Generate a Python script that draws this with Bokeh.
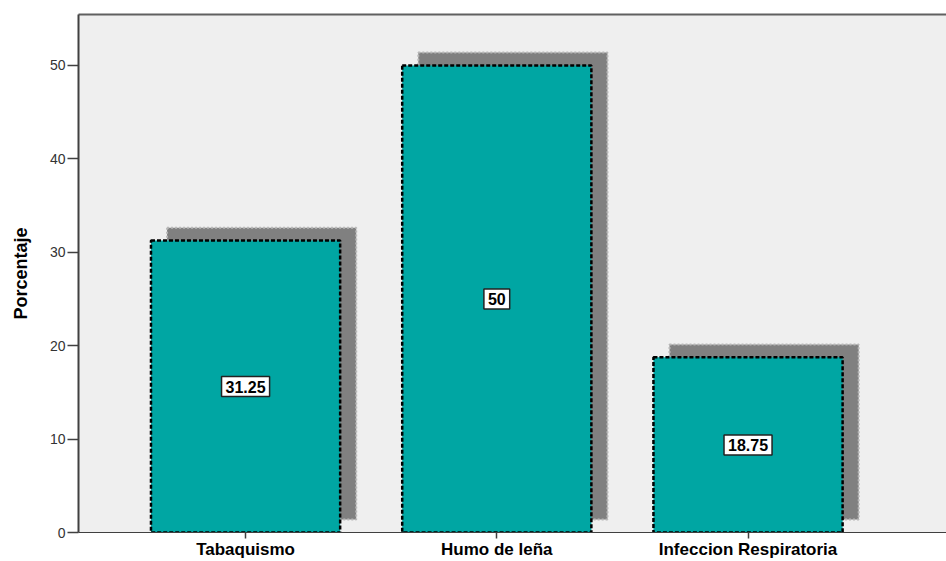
from bokeh.plotting import figure
from bokeh.models import ColumnDataSource, Range1d, FixedTicker, LinearAxis
from bokeh.core.properties import value
from bokeh.embed import file_html
from bokeh.resources import INLINE

# Causes and their percentages
categories = ["Tabaquismo", "Humo de leña", "Infeccion Respiratoria"]
porcentajes = [31.25, 50.0, 18.75]
etiquetas = ["31.25", "50", "18.75"]

BAR_W = 0.753
SHADOW_DX = 0.064   # shadow shift to the right (category units)
SHADOW_DY = 1.39    # shadow shift upwards (percent units)

xs = list(range(len(categories)))
src = ColumnDataSource(dict(
    x=xs,
    top=porcentajes,
    sx=[x + SHADOW_DX for x in xs],
    stop=[v + SHADOW_DY for v in porcentajes],
    sbot=[SHADOW_DY] * len(xs),
    ly=[v / 2 for v in porcentajes],
    txt=etiquetas,
))

p = figure(width=946, height=561, output_backend="svg", toolbar_location=None,
           x_range=Range1d(-0.665, 2.79), y_range=Range1d(0, 55.46),
           min_border_left=78, min_border_top=14, min_border_bottom=29,
           min_border_right=0)
p.background_fill_color = "#efefef"
p.border_fill_color = "white"
p.outline_line_color = None
p.grid.visible = False

# drop shadows
p.vbar(x="sx", width=BAR_W, top="stop", bottom="sbot", source=src,
       fill_color="#808080", line_color="#b8b8b8", line_width=2, line_dash="2 2")
# bars
p.vbar(x="x", width=BAR_W, top="top", bottom=0, source=src,
       fill_color="#00a6a3", line_color="black", line_width=2.5, line_dash="4 2")

# value labels in white boxes
p.text(x="x", y="ly", text="txt", source=src,
       text_align="center", text_baseline="middle",
       text_font=value("Liberation Sans"), text_font_style="bold",
       text_font_size="16px", text_color="black",
       background_fill_color="white", border_line_color="#222222",
       border_line_width=1.5, padding=4)

# y axis
ya = p.yaxis[0]
ya.ticker = FixedTicker(ticks=[0, 10, 20, 30, 40, 50])
ya.minor_tick_line_color = None
ya.major_tick_in = 0
ya.major_tick_out = 11
ya.axis_line_color = "#404040"
ya.major_tick_line_color = "#404040"
ya.axis_line_width = 2
ya.major_tick_line_width = 1.5
ya.major_label_text_font = "Liberation Sans"
ya.major_label_text_font_size = "14px"
ya.major_label_text_color = "#333333"
ya.major_label_standoff = 2
ya.axis_label = "Porcentaje"
ya.axis_label_text_font = "Liberation Sans"
ya.axis_label_text_font_style = "bold"
ya.axis_label_text_font_size = "18px"
ya.axis_label_text_color = "black"
ya.axis_label_standoff = 16

# x axis
xa = p.xaxis[0]
xa.ticker = FixedTicker(ticks=xs)
xa.major_label_overrides = {i: c for i, c in enumerate(categories)}
xa.minor_tick_line_color = None
xa.major_tick_in = 0
xa.major_tick_out = 6
xa.axis_line_color = "#404040"
xa.major_tick_line_color = "#404040"
xa.major_tick_line_width = 1.5
xa.major_label_text_font = "Liberation Sans"
xa.major_label_text_font_style = "bold"
xa.major_label_text_font_size = "17px"
xa.major_label_text_color = "black"
xa.major_label_standoff = 1

# top frame line
top = LinearAxis(ticker=FixedTicker(ticks=[]), axis_line_color="#606060",
                 axis_line_width=2, major_tick_line_color=None,
                 minor_tick_line_color=None, major_label_text_font_size="0px")
p.add_layout(top, "above")

open("out.html", "w").write(file_html(p, INLINE))
